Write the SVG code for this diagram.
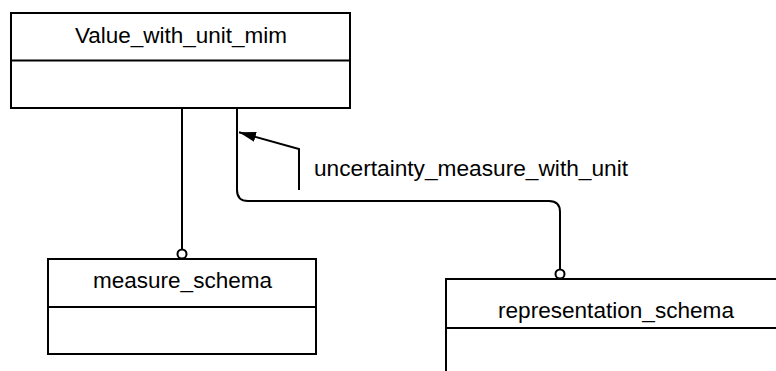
<svg xmlns="http://www.w3.org/2000/svg" width="776" height="371" viewBox="0 0 776 371">
<style>
.box{fill:#fff;stroke:#000;stroke-width:2}
.div{stroke:#000;stroke-width:2}
.t{font-family:"Liberation Sans",Arial,sans-serif;font-size:22px;fill:#000;text-anchor:middle}
.lbl{font-family:"Liberation Sans",Arial,sans-serif;font-size:22px;fill:#000}
.c{fill:none;stroke:#000;stroke-width:2}
.o{fill:#fff;stroke:#000;stroke-width:2}
</style>
<defs>
<marker id="arr" markerWidth="18" markerHeight="12" refX="17" refY="6" orient="auto" markerUnits="userSpaceOnUse">
<path d="M0,1 L17,6 L0,11 Z" fill="#000"/>
</marker>
</defs>
<rect width="776" height="371" fill="#fff"/>
<g id="connectors">
<path class="c" d="M182,108 V249.5"/>
<circle class="o" cx="182" cy="254" r="4.5"/>
<path class="c" d="M237,108 V190 Q237,201 248,201 H549 Q560,201 560,212 V269.5"/>
<circle class="o" cx="560" cy="274" r="4.5"/>
<path class="c" d="M299,190 V149 L239,132.3" marker-end="url(#arr)"/>
<text class="lbl" x="314" y="176" textLength="314" lengthAdjust="spacingAndGlyphs">uncertainty_measure_with_unit</text>
</g>
<g id="value_with_unit_mim">
<rect class="box" x="11" y="13" width="339" height="95"/>
<line class="div" x1="11" y1="60.5" x2="350" y2="60.5"/>
<text class="t" x="181" y="43" textLength="212" lengthAdjust="spacingAndGlyphs">Value_with_unit_mim</text>
</g>
<g id="measure_schema">
<rect class="box" x="48" y="259" width="268" height="95"/>
<line class="div" x1="48" y1="307" x2="316" y2="307"/>
<text class="t" x="182.5" y="288" textLength="179" lengthAdjust="spacingAndGlyphs">measure_schema</text>
</g>
<g id="representation_schema">
<rect class="box" x="446" y="279" width="340" height="100"/>
<line class="div" x1="446" y1="328" x2="786" y2="328"/>
<text class="t" x="616" y="318" textLength="236" lengthAdjust="spacingAndGlyphs">representation_schema</text>
</g>
</svg>
